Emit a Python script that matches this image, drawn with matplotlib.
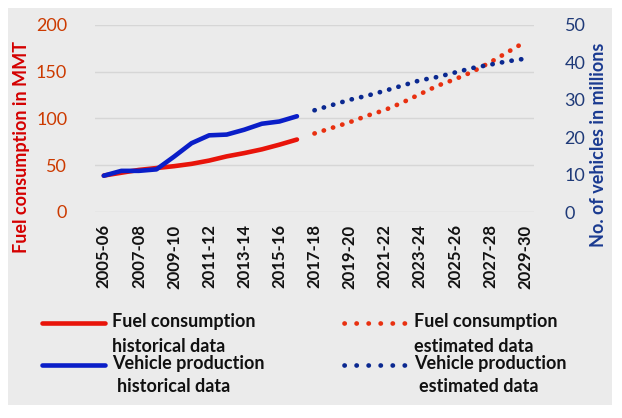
import numpy as np
import matplotlib
matplotlib.use('Agg')
import matplotlib.pyplot as plt
from matplotlib.lines import Line2D
from matplotlib.patches import Rectangle

plt.rcParams['font.family'] = ['Lato', 'DejaVu Sans']

years = ['2005-06', '2006-07', '2007-08', '2008-09', '2009-10', '2010-11',
         '2011-12', '2012-13', '2013-14', '2014-15', '2015-16', '2016-17',
         '2017-18', '2018-19', '2019-20', '2020-21', '2021-22', '2022-23',
         '2023-24', '2024-25', '2025-26', '2026-27', '2027-28', '2028-29',
         '2029-30']

# historical 2005-06 .. 2016-17
fuel_hist = [39, 42, 45, 47, 49, 51.5, 55, 59.5, 63, 67, 72, 77.5]
veh_hist = [9.7, 11, 11, 11.4, 14.8, 18.4, 20.5, 20.7, 22, 23.6, 24.2, 25.6]
# estimated 2017-18 .. 2029-30
fuel_est = [84, 90, 96, 103, 109, 117, 126, 135, 142, 150, 160, 171, 182]
veh_est = [27.2, 28.6, 30, 31.1, 32.4, 33.8, 35.2, 36.1, 37.3, 38.5, 39.4, 40.3, 41]

W, H = 622, 418
fig = plt.figure(figsize=(W / 100, H / 100), dpi=100, facecolor='white')


def px(x, y):
    return x / W, 1 - y / H


# gray chart area
fig.patches.append(Rectangle(px(8, 405), 604 / W, 397 / H, transform=fig.transFigure,
                             facecolor='#ebebeb', edgecolor='none', zorder=-10))

ax = fig.add_axes([95 / W, 1 - 212 / H, 439 / W, 187 / H])
ax.set_facecolor('none')
ax2 = ax.twinx()

x = np.arange(len(years))
n_hist = len(fuel_hist)

red = '#e8140a'
blue = '#0a1ec8'
red_dot = '#e83010'
blue_dot = '#0a2890'
dots = (0, (0.05, 2.0))

ax.plot(x[:n_hist], fuel_hist, color=red, lw=3.3, solid_capstyle='round', zorder=3)
ax.plot(x[n_hist:], fuel_est, color=red_dot, lw=3.4, linestyle=dots,
        dash_capstyle='round', zorder=3)
ax2.plot(x[:n_hist], veh_hist, color=blue, lw=3.3, solid_capstyle='round', zorder=4)
ax2.plot(x[n_hist:], veh_est, color=blue_dot, lw=3.4, linestyle=dots,
         dash_capstyle='round', zorder=4)

ax.set_xlim(-0.5, len(years) - 0.5)
ax.set_ylim(0, 200)
ax2.set_ylim(0, 50)
ax.set_yticks([0, 50, 100, 150, 200])
ax2.set_yticks([0, 10, 20, 30, 40, 50])
ax.set_xticks(x[::2])
ax.set_xticklabels(years[::2], rotation=90, fontsize=12, fontweight='bold', color='#111111')

ax.grid(axis='y', color='#d6d6d6', lw=1)
ax.set_axisbelow(True)
for s in ['top', 'bottom', 'left', 'right']:
    ax.spines[s].set_visible(False)
    ax2.spines[s].set_visible(False)

ax.tick_params(axis='both', length=0)
ax.tick_params(axis='y', pad=20, labelsize=13, labelcolor='#cc3a00')
ax.tick_params(axis='x', pad=9)
ax2.tick_params(axis='y', length=0, pad=22, labelsize=13, labelcolor='#1f3a78')

ax.set_ylabel('Fuel consumption in MMT', fontsize=13, fontweight='bold', color='#d40000')
ax.yaxis.set_label_coords((22 - 95) / 439, (212 - 147) / 187)
ax.yaxis.label.set_verticalalignment('center')
ax2.set_ylabel('No. of vehicles in millions', fontsize=13, fontweight='bold', color='#1a3a90')
ax2.yaxis.set_label_coords((598 - 95) / 439, (212 - 145) / 187)
ax2.yaxis.label.set_verticalalignment('center')

# legend, drawn by hand to keep the two-line labels
leg_font = dict(fontsize=13, fontweight='bold', color='#111111', va='center', ha='left')
leg_dots = (0, (0.05, 2.5))
fig.add_artist(Line2D(*zip(px(42, 323), px(105, 323)), transform=fig.transFigure,
                      color=red, lw=3.3, solid_capstyle='round'))
fig.add_artist(Line2D(*zip(px(42, 365), px(105, 365)), transform=fig.transFigure,
                      color=blue, lw=3.3, solid_capstyle='round'))
fig.add_artist(Line2D(*zip(px(344, 323), px(406, 323)), transform=fig.transFigure,
                      color=red_dot, lw=3.4, linestyle=leg_dots, dash_capstyle='round'))
fig.add_artist(Line2D(*zip(px(344, 365), px(406, 365)), transform=fig.transFigure,
                      color=blue_dot, lw=3.4, linestyle=leg_dots, dash_capstyle='round'))
fig.text(*px(112, 322), 'Fuel consumption', **leg_font)
fig.text(*px(112, 347), 'historical data', **leg_font)
fig.text(*px(112, 364), 'Vehicle production', **leg_font)
fig.text(*px(117, 387), 'historical data', **leg_font)
fig.text(*px(414, 322), 'Fuel consumption', **leg_font)
fig.text(*px(414, 347), 'estimated data', **leg_font)
fig.text(*px(414, 364), 'Vehicle production', **leg_font)
fig.text(*px(419, 387), 'estimated data', **leg_font)

fig.savefig('out.png', dpi=100, facecolor='white')
